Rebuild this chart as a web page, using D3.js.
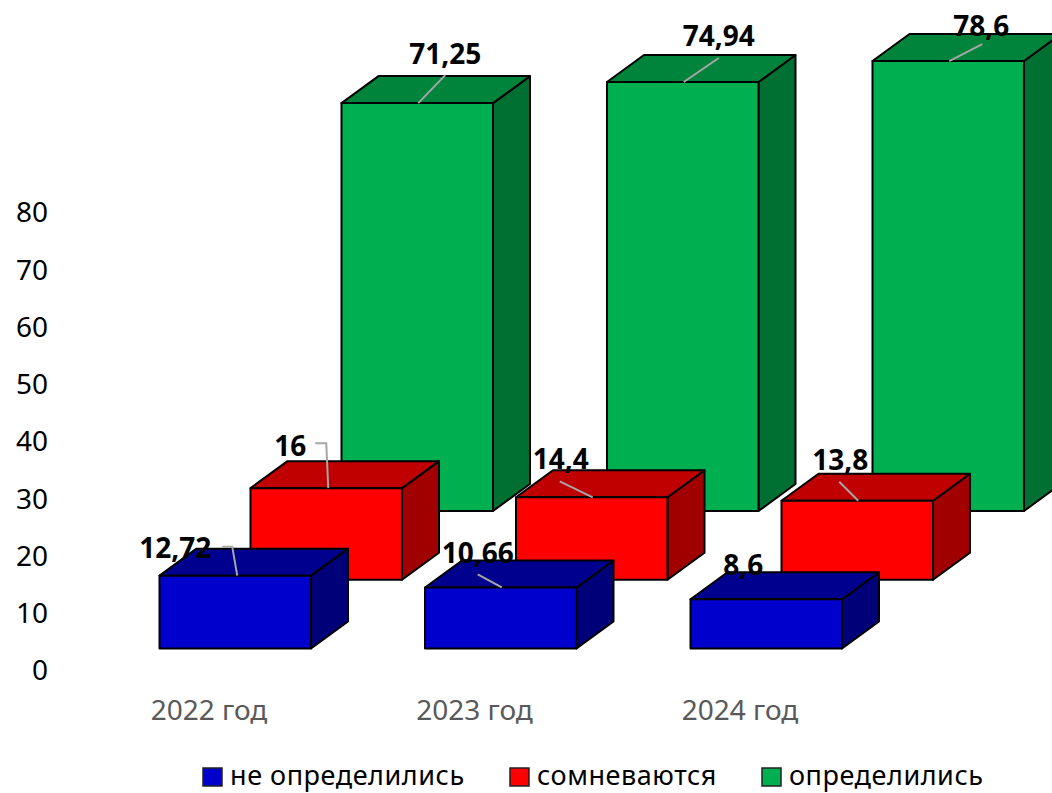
<!DOCTYPE html>
<html>
<head>
<meta charset="utf-8">
<script src="https://cdn.jsdelivr.net/npm/d3@7"></script>
<style>
    html, body { margin: 0; padding: 0; background: #fff; }
    svg { display: block; }
    text { font-family: "Noto Sans", sans-serif; }
</style>
</head>
<body>
<div id="chart"></div>
<script>
const categories = ["2022 год", "2023 год", "2024 год"];
const seriesNames = ["не определились", "сомневаются", "определились"];
const undecided = [12.72, 10.66, 8.6];
const doubting = [16, 14.4, 13.8];
const decided = [71.25, 74.94, 78.6];
const labelText = {
    "не определились": ["12,72", "10,66", "8,6"],
    "сомневаются": ["16", "14,4", "13,8"],
    "определились": ["71,25", "74,94", "78,6"]
};
const yTicks = [0, 10, 20, 30, 40, 50, 60, 70, 80];

// label offsets from the middle of each bar's top front edge
const labelOffsets = {
    "не определились": [[-60, -27], [-23, -34], [-23, -34]],
    "сомневаются": [[-36, -42], [-31, -38], [-17, -41]],
    "определились": [[28, -49], [36, -46], [33, -35]]
};
const leaderLines = {
    "не определились": [[[2, 0], [-3, -29], [-13, -29]], [[1, 0], [-23, -13]], null],
    "сомневаются": [[[2, 0], [0, -45], [-11, -45]], [[1, 0], [-32, -16]], [[1, 0], [-18, -19]]],
    "определились": [[[1, 0], [28, -28]], [[1, 0], [36, -24]], [[1, 0], [34, -17]]]
};

const seriesValues = { "не определились": undecided, "сомневаются": doubting, "определились": decided };
const frontColor = { "не определились": "#0000cc", "сомневаются": "#ff0000", "определились": "#00b050" };
const topColor = { "не определились": "#00008f", "сомневаются": "#c00000", "определились": "#00843c" };
const sideColor = { "не определились": "#000078", "сомневаются": "#a00000", "определились": "#006f32" };

const width = 1052, height = 793;
const barWidth = 151.5, depthX = 37, depthY = 27;
const fontSize = 28;

const svg = d3.select("#chart").append("svg")
    .attr("width", width)
    .attr("height", height);

const y = d3.scaleLinear().domain([0, 80]).range([671, 213]);
const x = d3.scalePoint().domain(categories).range([210.5, 741.5]);
const seriesX = d3.scalePoint().domain(seriesNames).range([-51, 131]);
const baseline = d3.scalePoint().domain(seriesNames).range([648.5, 511]);
const barHeight = v => y(0) - y(v);

// y axis
const yAxis = svg.append("g")
    .attr("transform", "translate(48,0)")
    .call(d3.axisLeft(y).tickValues(yTicks).tickSize(0).tickPadding(0));
yAxis.select(".domain").remove();
yAxis.selectAll("text")
    .attr("fill", "#000")
    .style("font-family", '"Noto Sans", sans-serif')
    .style("font-size", fontSize + "px");

// category axis
const xAxis = svg.append("g")
    .attr("transform", "translate(-2,710)")
    .call(d3.axisBottom(x).tickSize(0).tickPadding(0));
xAxis.select(".domain").remove();
xAxis.selectAll("text")
    .attr("dy", "0.35em")
    .attr("fill", "#595959")
    .style("font-family", '"Noto Sans", sans-serif')
    .style("font-size", fontSize + "px");

// back row first so the front rows sit on top of it
const drawOrder = seriesNames.slice().reverse();
const bars = [];
drawOrder.forEach(name => {
    seriesValues[name].forEach((v, i) => {
        const left = x(categories[i]) + seriesX(name);
        const bottom = baseline(name);
        bars.push({ name, i, v, left, bottom, top: bottom - barHeight(v) });
    });
});

const path = (pts) => "M" + pts.map(p => p.join(",")).join("L") + "Z";

const rows = svg.selectAll(".row").data(drawOrder).join("g").attr("class", "row");

rows.each(function(name) {
    const g = d3.select(this);
    const rowBars = bars.filter(b => b.name === name);
    const box = g.selectAll(".box").data(rowBars).join("g")
        .attr("class", "box")
        .attr("stroke", "#000")
        .attr("stroke-width", 2)
        .attr("stroke-linejoin", "round");

    box.append("path")
        .attr("fill", sideColor[name])
        .attr("d", b => path([
            [b.left + barWidth, b.top],
            [b.left + barWidth + depthX, b.top - depthY],
            [b.left + barWidth + depthX, b.bottom - depthY],
            [b.left + barWidth, b.bottom]
        ]));
    box.append("path")
        .attr("fill", topColor[name])
        .attr("d", b => path([
            [b.left, b.top],
            [b.left + depthX, b.top - depthY],
            [b.left + barWidth + depthX, b.top - depthY],
            [b.left + barWidth, b.top]
        ]));
    box.append("rect")
        .attr("fill", frontColor[name])
        .attr("x", b => b.left)
        .attr("y", b => b.top)
        .attr("width", barWidth)
        .attr("height", b => b.bottom - b.top);

    // leader lines
    g.selectAll(".leader").data(rowBars.filter(b => leaderLines[name][b.i])).join("polyline")
        .attr("class", "leader")
        .attr("fill", "none")
        .attr("stroke", "#a6a6a6")
        .attr("stroke-width", 2)
        .attr("points", b => leaderLines[name][b.i]
            .map(p => [b.left + barWidth / 2 + p[0], b.top + p[1]].join(",")).join(" "));
});

// data labels over everything
svg.selectAll(".value").data(bars).join("text")
    .attr("class", "value")
    .attr("x", b => b.left + barWidth / 2 + labelOffsets[b.name][b.i][0])
    .attr("y", b => b.top + labelOffsets[b.name][b.i][1])
    .attr("dy", "0.35em")
    .attr("text-anchor", "middle")
    .attr("font-weight", "bold")
    .attr("font-size", fontSize)
    .attr("fill", "#000")
    .text(b => labelText[b.name][b.i]);

// legend, a touch smaller with wider spacing so the text box stays inside the page
const legendX = d3.scaleOrdinal().domain(seriesNames).range([203, 510, 762]);
const legend = svg.selectAll(".legend").data(seriesNames).join("g")
    .attr("class", "legend")
    .attr("transform", d => `translate(${legendX(d)},768)`);
legend.append("rect")
    .attr("width", 19)
    .attr("height", 18)
    .attr("fill", d => frontColor[d])
    .attr("stroke", "#222")
    .attr("stroke-width", 1.5);
legend.append("text")
    .attr("x", 27)
    .attr("y", 17)
    .attr("font-size", 27)
    .attr("letter-spacing", 0.55)
    .attr("fill", "#000")
    .text(d => d);
</script>
</body>
</html>
